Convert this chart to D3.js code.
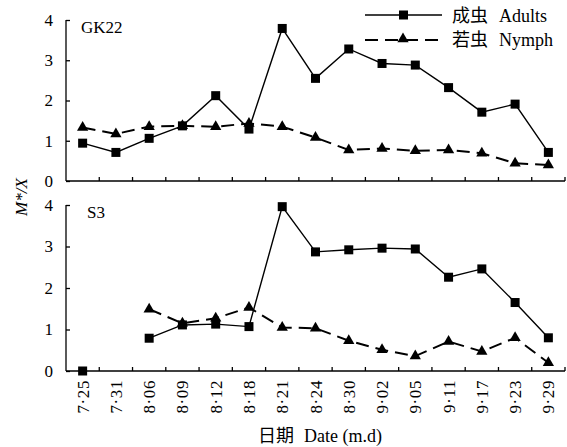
<!DOCTYPE html>
<html><head><meta charset="utf-8">
<script src="https://cdn.jsdelivr.net/npm/d3@7"></script>
<style>body{margin:0;background:#fff}svg{display:block}</style>
</head><body>
<svg id="c" width="567" height="447"></svg>
<script>
const dates = ["7·25","7·31","8·06","8·09","8·12","8·18","8·21","8·24","8·30","9·02","9·05","9·11","9·17","9·23","9·29"];
const gkAdults = [0.94,0.71,1.06,1.37,2.12,1.29,3.79,2.55,3.28,2.92,2.88,2.32,1.71,1.91,0.71];
const gkNymph  = [1.33,1.17,1.35,1.37,1.35,1.43,1.35,1.08,0.77,0.81,0.75,0.77,0.69,0.44,0.40];
const s3Adults = [0.0,null,0.79,1.11,1.13,1.07,3.96,2.87,2.92,2.96,2.94,2.26,2.46,1.65,0.80];
const s3Nymph  = [null,null,1.49,1.15,1.27,1.53,1.05,1.03,0.73,0.51,0.36,0.71,0.47,0.80,0.20];
const yTicks = [0,1,2,3,4];

const svg = d3.select("#c");
const serif = "'Liberation Serif','DejaVu Serif',serif";
const cjk = "'Noto Sans CJK SC',sans-serif";
const x = d3.scaleBand().domain(dates).range([66,565]);
const cx = d => x(d) + x.bandwidth()/2;

const panels = [
  {name:"GK22", top:20, bottom:181, adults:gkAdults, nymph:gkNymph, labels:false},
  {name:"S3", top:205, bottom:371, adults:s3Adults, nymph:s3Nymph, labels:true}
];

panels.forEach(p => {
  const y = d3.scaleLinear().domain([0,4]).range([p.bottom,p.top]);
  const g = svg.append("g");
  // y axis
  const ya = g.append("g").attr("transform","translate(66,0)")
    .call(d3.axisLeft(y).tickValues(yTicks).tickSize(-4).tickPadding(13).tickFormat(d3.format("d")));
  ya.select(".domain").attr("d",`M0,${p.top}V${p.bottom}`);
  ya.selectAll("text").attr("font-family",serif).attr("font-size",17).attr("fill","#000");
  ya.selectAll("line,path").attr("stroke","#000").attr("stroke-width",1.3);
  // x axis
  const xa = g.append("g").attr("transform",`translate(0,${p.bottom})`)
    .call(d3.axisBottom(x).tickSize(0).tickFormat(""));
  xa.select(".domain").attr("d","M66,0H565").attr("stroke","#000").attr("stroke-width",1.3);
  xa.selectAll(".tick").remove();
  const bounds = dates.map(d => x(d) + x.bandwidth());
  xa.selectAll("line.bt").data(bounds).enter().append("line").attr("class","bt")
    .attr("x1",d=>d).attr("x2",d=>d).attr("y1",0).attr("y2",-4)
    .attr("stroke","#000").attr("stroke-width",1.3);
  if (p.labels) {
    xa.selectAll("text.lb").data(dates).enter().append("text").attr("class","lb")
      .attr("transform",d=>`translate(${cx(d)+6},9) rotate(-90)`)
      .attr("text-anchor","end").attr("font-family",serif).attr("font-size",17)
      .attr("fill","#000").attr("letter-spacing",0.6).text(d=>d);
  }
  // panel label
  g.append("text").attr("x", p.name==="GK22"?81:87).attr("y", p.top+13)
    .attr("font-family",serif).attr("font-size",17).text(p.name);

  // lines
  const line = d3.line().defined(d=>d.v!=null).x(d=>cx(d.d)).y(d=>y(d.v));
  const ad = dates.map((d,i)=>({d, v:p.adults[i]}));
  const ny = dates.map((d,i)=>({d, v:p.nymph[i]}));
  g.append("path").attr("d",line(ny)).attr("fill","none").attr("stroke","#000")
    .attr("stroke-width",2).attr("stroke-dasharray","13,7");
  g.append("path").attr("d",line(ad)).attr("fill","none").attr("stroke","#000")
    .attr("stroke-width",1.4);
  g.selectAll("rect.m").data(ad.filter(d=>d.v!=null)).enter().append("rect").attr("class","m")
    .attr("x",d=>cx(d.d)-4.5).attr("y",d=>y(d.v)-4.5).attr("width",9).attr("height",9).attr("fill","#000");
  const tri = d3.symbol().type(d3.symbolTriangle).size(55);
  g.selectAll("path.t").data(ny.filter(d=>d.v!=null)).enter().append("path").attr("class","t")
    .attr("d",tri).attr("transform",d=>`translate(${cx(d.d)},${y(d.v)})`).attr("fill","#000");
});

// legend
const lg = svg.append("g");
lg.append("line").attr("x1",365).attr("x2",442).attr("y1",15).attr("y2",15).attr("stroke","#000").attr("stroke-width",1.6);
lg.append("rect").attr("x",399).attr("y",10.5).attr("width",9).attr("height",9).attr("fill","#000");
lg.append("line").attr("x1",365).attr("x2",445).attr("y1",40).attr("y2",40).attr("stroke","#000").attr("stroke-width",2).attr("stroke-dasharray","13,7");
lg.append("path").attr("d",d3.symbol().type(d3.symbolTriangle).size(55)).attr("transform","translate(403,39)").attr("fill","#000");
[["成虫","Adults",22],["若虫","Nymph",46]].forEach(([c,e,yy])=>{
  const t = lg.append("text").attr("x",452).attr("y",yy).attr("font-size",18);
  t.append("tspan").attr("font-family",cjk).text(c);
  t.append("tspan").attr("font-family",serif).attr("dx",11).text(e);
});

// axis titles
svg.append("text").attr("transform","translate(27,197) rotate(-90)").attr("text-anchor","middle")
  .attr("font-family",serif).attr("font-style","italic").attr("font-size",17).text("M*/X");
const xt = svg.append("text").attr("x",320).attr("y",442).attr("text-anchor","middle").attr("font-size",18);
xt.append("tspan").attr("font-family",cjk).text("日期");
xt.append("tspan").attr("font-family",serif).attr("dx",10).text("Date (m.d)");
</script>
</body></html>
